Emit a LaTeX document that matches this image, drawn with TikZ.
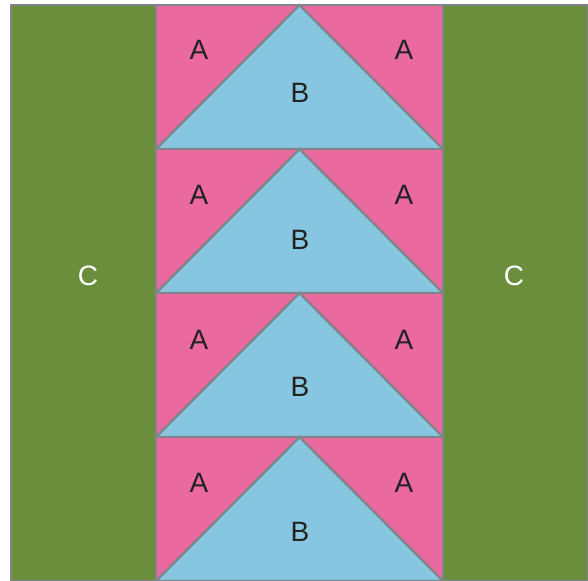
\documentclass[tikz,border=0pt]{standalone}
\usepackage{fontspec}
\setmainfont{Liberation Sans}
\definecolor{cgreen}{HTML}{6A8E3B}
\definecolor{cpink}{HTML}{EA6AA0}
\definecolor{cblue}{HTML}{87C6E1}
\definecolor{cline}{HTML}{808589}
\definecolor{ctext}{HTML}{222222}
\tikzset{
  patch/.style={draw=cline, line width=2.4pt, line join=miter},
  lab/.style={font=\fontsize{28}{32}\selectfont, text=ctext, inner sep=0pt},
  clab/.style={font=\fontsize{28}{32}\selectfont, text=white, inner sep=0pt}
}
\begin{document}
\begin{tikzpicture}[x=1pt,y=-1pt]
\useasboundingbox (0,0) rectangle (588,580);
\fill[white] (0,0) rectangle (588,580);
\begin{scope}
\clip (0,0) rectangle (588,580);
% side columns
\path[patch, fill=cgreen] (11,5) rectangle (156,581);
\path[patch, fill=cgreen] (443,5) rectangle (588,581);
% flying geese
\foreach \i in {0,1,2,3} {
  \pgfmathsetmacro{\ya}{5+144*\i}
  \pgfmathsetmacro{\yb}{149+144*\i}
  \path[patch, fill=cpink] (156,\ya) rectangle (443,\yb);
  \path[patch, fill=cblue] (156,\yb) -- (299.5,\ya) -- (443,\yb) -- cycle;
}
\end{scope}
% labels
\node[lab] (a1l) at (199,50) {A};
\node[lab] (a1r) at (404,50) {A};
\node[lab] (b1) at (300,93) {B};
\node[lab] (a2l) at (199,195) {A};
\node[lab] (a2r) at (404,195) {A};
\node[lab] (b2) at (300,240) {B};
\node[lab] (a3l) at (199,340) {A};
\node[lab] (a3r) at (404,340) {A};
\node[lab] (b3) at (300,387) {B};
\node[lab] (a4l) at (199,483) {A};
\node[lab] (a4r) at (404,483) {A};
\node[lab] (b4) at (300,532) {B};
\node[clab] (cl) at (88,276) {C};
\node[clab] (cr) at (514,276) {C};
\end{tikzpicture}
\end{document}
